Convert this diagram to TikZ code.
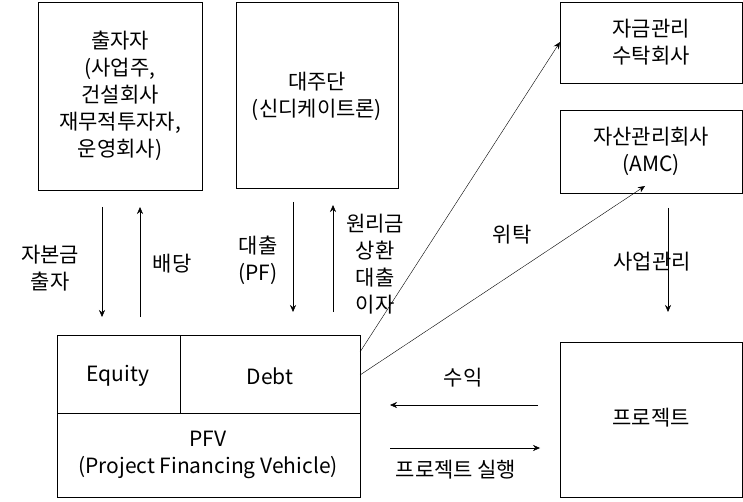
\documentclass[tikz,border=0pt]{standalone}
\usepackage{fontspec}
\setmainfont{Noto Sans CJK KR}
\usetikzlibrary{arrows.meta}
\tikzset{
  box/.style={draw,thick,inner sep=0pt},
  lbl/.style={align=center,font=\fontsize{21}{27}\selectfont},
  flow/.style={-{Stealth[length=7pt,width=6pt]},thin}
}
\begin{document}
\begin{tikzpicture}[x=1pt,y=-1pt]
\useasboundingbox (0,0) rectangle (743,502);
% boxes
\draw[box] (38,2) rectangle (202,190);
\node[lbl] (investor) at (120,96) {출자자\\(사업주,\\건설회사\\재무적투자자,\\운영회사)};
\draw[box] (236,2) rectangle (398,188);
\node[lbl] (lender) at (317,96) {대주단\\(신디케이트론)};
\draw[box] (560,2) rectangle (742,83);
\node[lbl] (trustee) at (651,42) {자금관리\\수탁회사};
\draw[box] (560,110) rectangle (742,193);
\node[lbl] (amc) at (651,151) {자산관리회사\\(AMC)};
\draw[box] (57,335) rectangle (360,497);
\draw[box] (57,413) -- (360,413) (180,335) -- (180,413);
\node[lbl] (equity) at (118,376) {Equity};
\node[lbl] (debt) at (270,376) {Debt};
\node[lbl] (pfv) at (208,455) {PFV\\(Project Financing Vehicle)};
\draw[box] (560,342) rectangle (742,497);
\node[lbl] (project) at (651,418) {프로젝트};
% connectors
\coordinate (a1) at (102,207); \coordinate (a2) at (102,317);
\draw[flow] (a1) -- (a2);
\node[lbl] (capital) at (50,268) {자본금\\출자};
\coordinate (b1) at (140,317); \coordinate (b2) at (140,207);
\draw[flow] (b1) -- (b2);
\node[lbl] (dividend) at (172,264) {배당};
\coordinate (c1) at (293,202); \coordinate (c2) at (293,312);
\draw[flow] (c1) -- (c2);
\node[lbl] (loan) at (258,260) {대출\\(PF)};
\coordinate (d1) at (333,312); \coordinate (d2) at (333,205);
\draw[flow] (d1) -- (d2);
\node[lbl] (repay) at (375,264) {원리금\\상환\\대출\\이자};
\coordinate (e1) at (360,352); \coordinate (e2) at (560,42);
\draw[flow] (e1) -- (e2);
\coordinate (f1) at (360,375); \coordinate (f2) at (645,186);
\draw[flow] (f1) -- (f2);
\node[lbl] (entrust) at (512,235) {위탁};
\coordinate (g1) at (668,208); \coordinate (g2) at (668,312);
\draw[flow] (g1) -- (g2);
\node[lbl] (manage) at (652,262) {사업관리};
\coordinate (h1) at (538,405); \coordinate (h2) at (390,405);
\draw[flow] (h1) -- (h2);
\node[lbl] (revenue) at (463,378) {수익};
\coordinate (i1) at (390,448); \coordinate (i2) at (540,448);
\draw[flow] (i1) -- (i2);
\node[lbl] (execute) at (456,470) {프로젝트 실행};
\end{tikzpicture}
\end{document}
